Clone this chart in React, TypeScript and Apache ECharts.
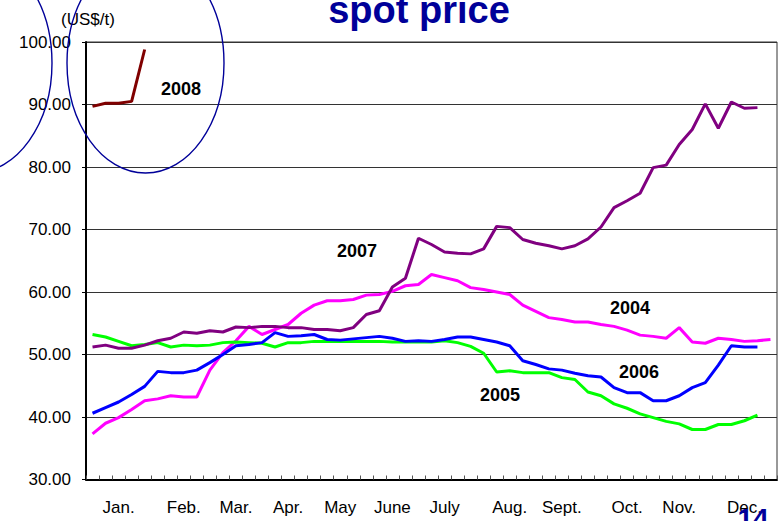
import React, { useEffect, useRef } from "react";
import * as echarts from "echarts";

// Weekly spot prices (US$/t), one value per week
const weekCount = 53;
const monthLabels = ["Jan.", "Feb.", "Mar.", "Apr.", "May", "June", "July", "Aug.", "Sept.", "Oct.", "Nov.", "Dec."];
const monthWeekIndex = [2, 7, 11, 15, 19, 23, 27, 32, 36, 41, 45, 50];

const y2004 = [
  37.3, 39.0, 39.9, 41.2, 42.6, 42.9, 43.4, 43.2, 43.2, 47.5,
  50.3, 52.2, 54.5, 53.2, 54.0, 54.8, 56.6, 57.9, 58.6, 58.6,
  58.8, 59.5, 59.6, 60.1, 61.0, 61.2, 62.8, 62.3, 61.8, 60.7,
  60.4, 60.0, 59.6, 57.9, 56.9, 55.9, 55.6, 55.2, 55.2, 54.8,
  54.5, 53.9, 53.1, 52.9, 52.6, 54.3, 52.0, 51.8, 52.6, 52.4,
  52.1, 52.2, 52.4,
];
const y2005 = [
  53.2, 52.8, 52.1, 51.4, 51.6, 51.9, 51.2, 51.5, 51.4, 51.5,
  51.9, 52.0, 51.9, 51.8, 51.2, 51.9, 51.9, 52.1, 52.1, 52.1,
  52.1, 52.1, 52.1, 52.0, 52.0, 52.0, 52.0, 52.2, 51.9, 51.3,
  50.2, 47.2, 47.4, 47.1, 47.1, 47.1, 46.3, 46.0, 44.0, 43.4,
  42.1, 41.4, 40.5, 39.9, 39.3, 38.9, 38.0, 38.0, 38.8, 38.8,
  39.4, 40.3,
];
const y2006 = [
  40.6, 41.5, 42.4, 43.6, 44.9, 47.3, 47.1, 47.1, 47.5, 48.7,
  50.0, 51.4, 51.6, 51.9, 53.5, 52.9, 53.0, 53.2, 52.4, 52.3,
  52.5, 52.7, 52.9, 52.6, 52.1, 52.2, 52.1, 52.4, 52.8, 52.8,
  52.4, 52.0, 51.4, 49.0, 48.4, 47.7, 47.5, 47.0, 46.6, 46.4,
  44.7, 43.9, 43.9, 42.6, 42.6, 43.4, 44.7, 45.5, 48.3, 51.4,
  51.2, 51.2,
];
const y2007 = [
  51.2, 51.5, 51.0, 51.0, 51.5, 52.2, 52.6, 53.6, 53.4, 53.8,
  53.6, 54.4, 54.3, 54.5, 54.5, 54.3, 54.3, 54.0, 54.0, 53.8,
  54.3, 56.4, 57.0, 60.8, 62.2, 68.6, 67.6, 66.4, 66.2, 66.1,
  66.9, 70.5, 70.3, 68.4, 67.8, 67.4, 66.9, 67.4, 68.5, 70.4,
  73.5, 74.6, 75.8, 79.9, 80.3, 83.6, 86.0, 90.1, 86.2, 90.4,
  89.4, 89.5,
];
const y2008 = [89.7, 90.2, 90.2, 90.5, 98.8];

const yMin = 30;
const yMax = 100;
const yStep = 10;

const FONT = "Arial, 'Liberation Sans', Helvetica, sans-serif";
const NAVY = "#000099";

export default function App() {
  const ref = useRef<HTMLDivElement>(null);

  useEffect(() => {
    if (!ref.current) return;
    const chart = echarts.init(ref.current, null, { renderer: "svg" });

    const categories: string[] = [];
    for (let i = 0; i < weekCount; i++) categories.push("");
    monthWeekIndex.forEach((idx, k) => {
      categories[idx] = monthLabels[k];
    });

    const line = (name: string, data: number[], color: string) => ({
      name,
      type: "line",
      data,
      symbol: "none",
      smooth: false,
      lineStyle: { color, width: 3 },
      itemStyle: { color },
      z: 3,
    });

    chart.setOption({
      animation: false,
      backgroundColor: "#ffffff",
      grid: {
        left: 86,
        right: 7,
        top: 42,
        bottom: 41.5,
        show: true,
        borderColor: "#333333",
        borderWidth: 1,
      },
      xAxis: {
        type: "category",
        data: categories,
        boundaryGap: true,
        axisLine: { show: true, lineStyle: { color: "#000000", width: 2 } },
        axisTick: {
          show: true,
          inside: true,
          length: 4,
          interval: 0,
          lineStyle: { color: "#555555", width: 1 },
        },
        axisLabel: {
          interval: 0,
          margin: 19,
          fontSize: 17,
          color: "#000000",
          fontFamily: FONT,
        },
        splitLine: { show: false },
      },
      yAxis: {
        type: "value",
        min: yMin,
        max: yMax,
        interval: yStep,
        axisLine: { show: true, lineStyle: { color: "#000000", width: 2 } },
        axisTick: { show: true, length: 4, lineStyle: { color: "#000000", width: 1 } },
        axisLabel: {
          margin: 15,
          fontSize: 17,
          color: "#000000",
          fontFamily: FONT,
          formatter: (v: number) => v.toFixed(2),
        },
        splitLine: { show: true, lineStyle: { color: "#333333", width: 1 } },
      },
      series: [
        line("2004", y2004, "#ff00ff"),
        line("2005", y2005, "#00ff00"),
        line("2006", y2006, "#0000ff"),
        line("2007", y2007, "#800080"),
        line("2008", y2008, "#800000"),
      ],
      graphic: [
        {
          type: "text",
          x: 419,
          y: 10,
          style: {
            text: "spot price",
            fill: NAVY,
            font: `bold 38px ${FONT}`,
            textAlign: "center",
            textVerticalAlign: "middle",
          },
          z: 10,
        },
        {
          type: "text",
          x: 88,
          y: 19,
          style: {
            text: "(US$/t)",
            fill: "#000000",
            font: `17px ${FONT}`,
            textAlign: "center",
            textVerticalAlign: "middle",
          },
          z: 10,
        },
        ...[
          { t: "2008", x: 181, y: 89 },
          { t: "2007", x: 357, y: 251 },
          { t: "2004", x: 630, y: 308 },
          { t: "2006", x: 639, y: 372 },
          { t: "2005", x: 500, y: 395 },
        ].map((a) => ({
          type: "text",
          x: a.x,
          y: a.y,
          style: {
            text: a.t,
            fill: "#000000",
            font: `bold 18px ${FONT}`,
            textAlign: "center",
            textVerticalAlign: "middle",
          },
          z: 10,
        })),
        {
          type: "ellipse",
          shape: { cx: 145.5, cy: 63, rx: 78.5, ry: 110 },
          style: { fill: "none", stroke: NAVY, lineWidth: 1.4 },
          z: 20,
        },
        {
          type: "ellipse",
          shape: { cx: -26.5, cy: 63, rx: 78.5, ry: 110 },
          style: { fill: "none", stroke: NAVY, lineWidth: 1.4 },
          z: 20,
        },
        {
          type: "text",
          x: 753,
          y: 518,
          style: {
            text: "14",
            fill: NAVY,
            font: `bold 28px ${FONT}`,
            textAlign: "center",
            textVerticalAlign: "middle",
          },
          z: 20,
        },
      ],
    });

    return () => {
      chart.dispose();
    };
  }, []);

  return (
    <div
      ref={ref}
      style={{ position: "fixed", left: 0, top: 0, width: 784, height: 521, background: "#fff" }}
    />
  );
}
